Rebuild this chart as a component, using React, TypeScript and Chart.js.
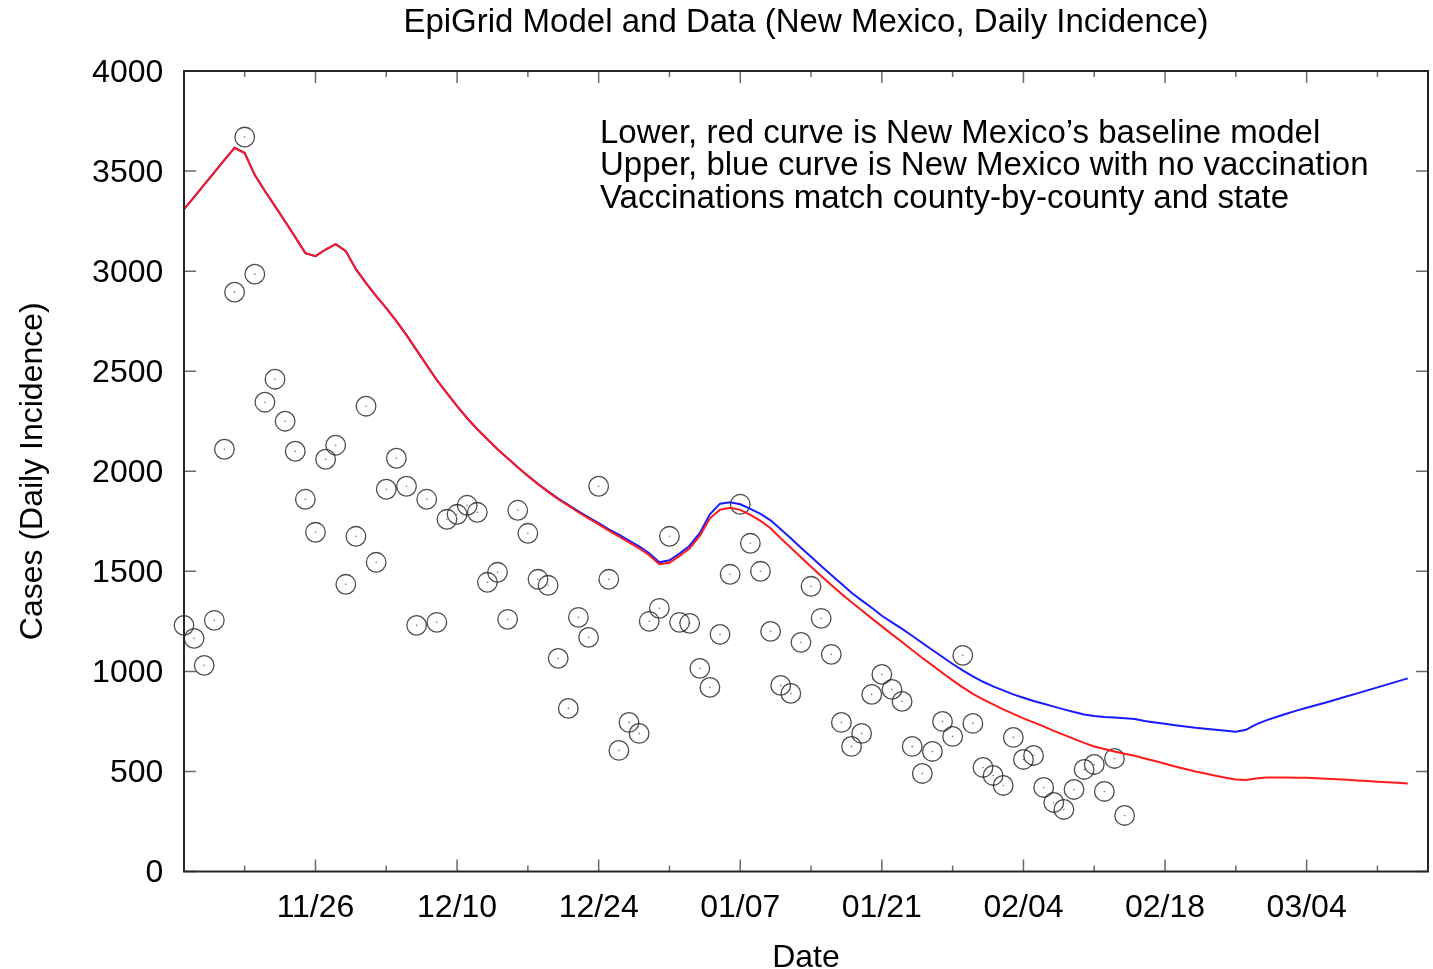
import React, { useEffect, useRef } from "react";
import { Chart, registerables } from "chart.js";

Chart.register(...registerables);

// Day index 0 = 11/13 (one value per day)
const observedCases = [
  1230, 1165, 1030, 1255, 2110, 2895, 3670, 2985, 2345, 2460, 2250, 2100, 1860, 1695, 2060, 2130,
  1435, 1675, 2325, 1545, 1910, 2065, 1925, 1230, 1860, 1245, 1760, 1785, 1830, 1795, 1445, 1495,
  1260, 1805, 1690, 1460, 1430, 1065, 815, 1270, 1170, 1925, 1460, 605, 745, 690, 1250, 1315,
  1675, 1245, 1240, 1015, 920, 1185, 1485, 1835, 1640, 1500, 1200, 930, 890, 1145, 1425, 1265,
  1085, 745, 625, 690, 885, 985, 910, 850, 625, 490, 600, 750, 675, 1080, 740, 520,
  480, 430, 670, 560, 580, 420, 345, 310, 410, 510, 535, 400, 565, 280,
];

// Lower, red curve: baseline model (day 0 .. 121)
const baselineModel = [
  3310, 3370, 3432, 3494, 3556, 3616, 3590, 3480, 3400, 3325, 3248, 3170, 3090, 3075, 3108, 3135,
  3100, 3010, 2940, 2875, 2815, 2750, 2680, 2605, 2530, 2455, 2390, 2325, 2265, 2210, 2160, 2110,
  2065, 2020, 1977, 1935, 1897, 1860, 1828, 1795, 1765, 1735, 1703, 1675, 1645, 1615, 1580, 1535,
  1543, 1577, 1615, 1677, 1765, 1808, 1818, 1807, 1782, 1752, 1715, 1665, 1618, 1570, 1523, 1477,
  1432, 1388, 1345, 1305, 1265, 1225, 1185, 1147, 1107, 1067, 1030, 992, 955, 920, 888, 860,
  835, 810, 788, 765, 745, 725, 703, 683, 663, 643, 625, 612, 600, 588, 578, 565,
  552, 538, 525, 512, 500, 490, 478, 468, 460, 457, 465, 470, 470, 470, 469, 468,
  466, 464, 461, 458, 455, 452, 449, 446, 443, 440,
];

// Upper, blue curve: no vaccination (day 0 .. 121)
const noVaccinationModel = [
  3310, 3370, 3432, 3494, 3556, 3616, 3590, 3480, 3400, 3325, 3248, 3170, 3090, 3075, 3108, 3135,
  3100, 3010, 2940, 2875, 2815, 2750, 2680, 2605, 2530, 2455, 2390, 2325, 2265, 2210, 2160, 2110,
  2065, 2020, 1977, 1937, 1900, 1863, 1832, 1800, 1770, 1741, 1710, 1683, 1654, 1625, 1590, 1545,
  1555, 1589, 1628, 1692, 1785, 1838, 1845, 1835, 1812, 1787, 1755, 1710, 1665, 1618, 1573, 1527,
  1482, 1438, 1393, 1355, 1318, 1278, 1245, 1212, 1178, 1142, 1107, 1072, 1037, 1005, 975, 948,
  925, 905, 885, 868, 852, 838, 824, 810, 797, 785, 777, 772, 769, 766, 762, 752,
  745, 738, 731, 725, 718, 713, 708, 703, 698, 708, 735, 755, 772, 788, 804, 818,
  832, 846, 861, 876, 890, 905, 920, 935, 950, 965,
];

const majorTickDays = [13, 27, 41, 55, 69, 83, 97, 111];
const majorTickLabels = ["11/26", "12/10", "12/24", "01/07", "01/21", "02/04", "02/18", "03/04"];
const minorTickDays = [6, 20, 34, 48, 62, 76, 90, 104, 118];

const annotationLines = [
  "Lower, red curve is New Mexico\u2019s baseline model",
  "Upper, blue curve is New Mexico with no vaccination",
  "Vaccinations match county-by-county and state",
];

const FONT = "'Liberation Sans', Arial, Helvetica, sans-serif";

const toPoints = (arr: number[]) => arr.map((v, i) => ({ x: i, y: v }));

const frameTicksPlugin = {
  id: "frameTicks",
  afterDatasetsDraw(chart: any) {
    const { ctx, chartArea, scales } = chart;
    const { left, right, top, bottom } = chartArea;
    const xs = scales.x;
    const ys = scales.y;
    ctx.save();
    ctx.strokeStyle = "#6a6a6a";
    ctx.lineWidth = 1.5;
    ctx.beginPath();
    ys.ticks.forEach((t: any) => {
      const py = ys.getPixelForValue(t.value);
      ctx.moveTo(left, py);
      ctx.lineTo(left + 12, py);
      ctx.moveTo(right, py);
      ctx.lineTo(right - 12, py);
    });
    xs.ticks.forEach((t: any) => {
      const px = xs.getPixelForValue(t.value);
      ctx.moveTo(px, bottom);
      ctx.lineTo(px, bottom - 12);
      ctx.moveTo(px, top);
      ctx.lineTo(px, top + 12);
    });
    minorTickDays.forEach((d) => {
      const px = xs.getPixelForValue(d);
      ctx.moveTo(px, bottom);
      ctx.lineTo(px, bottom - 6);
      ctx.moveTo(px, top);
      ctx.lineTo(px, top + 6);
    });
    ctx.stroke();
    ctx.strokeStyle = "#262626";
    ctx.lineWidth = 2;
    ctx.strokeRect(left, top, right - left, bottom - top);
    ctx.restore();
  },
};

const annotationPlugin = {
  id: "annotationText",
  afterDraw(chart: any) {
    const { ctx } = chart;
    ctx.save();
    ctx.fillStyle = "#000";
    ctx.font = `33px ${FONT}`;
    ctx.textAlign = "left";
    ctx.textBaseline = "alphabetic";
    annotationLines.forEach((line, i) => {
      ctx.fillText(line, 600, 142.7 + i * 32.4);
    });
    ctx.restore();
  },
};

export default function App() {
  const canvasRef = useRef<HTMLCanvasElement | null>(null);

  useEffect(() => {
    if (!canvasRef.current) return;
    const chart = new Chart(canvasRef.current, {
      type: "scatter",
      data: {
        datasets: [
          {
            type: "line",
            label: "Baseline model",
            data: toPoints(baselineModel),
            borderColor: "#ff1a1a",
            borderWidth: 2,
            pointRadius: 0,
            tension: 0,
            fill: false,
          },
          {
            type: "line",
            label: "No vaccination",
            data: toPoints(noVaccinationModel),
            borderColor: "#1a1aff",
            borderWidth: 2,
            pointRadius: 0,
            tension: 0,
            fill: false,
          },
          {
            type: "scatter",
            label: "Data centers",
            data: toPoints(observedCases),
            pointRadius: 0.8,
            pointBackgroundColor: "rgba(60,60,60,0.7)",
            pointBorderWidth: 0,
            clip: false,
          },
          {
            type: "scatter",
            label: "Data",
            data: toPoints(observedCases),
            pointStyle: "circle",
            pointRadius: 9.8,
            pointBorderWidth: 1.3,
            pointBorderColor: "rgba(30,30,30,0.8)",
            pointBackgroundColor: "rgba(0,0,0,0)",
            clip: false,
          },
        ],
      } as any,
      options: {
        animation: false,
        responsive: false,
        devicePixelRatio: 1,
        layout: { autoPadding: false, padding: { left: 0, right: 5, top: 0, bottom: 0 } },
        plugins: {
          legend: { display: false },
          tooltip: { enabled: false },
          title: {
            display: true,
            fullSize: false,
            text: "EpiGrid Model and Data (New Mexico, Daily Incidence)",
            color: "#000",
            font: { family: FONT, size: 33, weight: "normal", lineHeight: 1.2 },
            padding: { top: 3, bottom: 28.4 },
          },
        },
        scales: {
          x: {
            type: "linear",
            min: 0,
            max: 123,
            afterBuildTicks: (axis: any) => {
              axis.ticks = majorTickDays.map((v) => ({ value: v }));
            },
            afterFit: (scale: any) => {
              scale.height = 97.5;
            },
            grid: { display: false, drawTicks: false },
            border: { display: false },
            ticks: {
              autoSkip: false,
              maxRotation: 0,
              padding: 17.2,
              color: "#000",
              font: { family: FONT, size: 32, lineHeight: 1.2 },
              callback: (value: any) => {
                const idx = majorTickDays.indexOf(Number(value));
                return idx >= 0 ? majorTickLabels[idx] : "";
              },
            },
            title: {
              display: true,
              text: "Date",
              color: "#000",
              font: { family: FONT, size: 32, lineHeight: 0.6 },
              padding: { top: 0, bottom: 1.2 },
            },
          },
          y: {
            type: "linear",
            min: 0,
            max: 4000,
            afterFit: (scale: any) => {
              scale.width = 184;
            },
            grid: { display: false, drawTicks: false },
            border: { display: false },
            ticks: {
              stepSize: 500,
              padding: 20.7,
              labelOffset: 2,
              color: "#000",
              font: { family: FONT, size: 32, lineHeight: 1.2 },
              callback: (value: any) => String(value),
            },
            title: {
              display: true,
              text: "Cases (Daily Incidence)",
              color: "#000",
              font: { family: FONT, size: 32, lineHeight: 1.2 },
              padding: { top: 14.3, bottom: 0 },
            },
          },
        },
      } as any,
      plugins: [frameTicksPlugin, annotationPlugin],
    });
    return () => chart.destroy();
  }, []);

  return (
    <div style={{ position: "fixed", left: 0, top: 0, width: 1433, height: 969, background: "#fff" }}>
      <canvas ref={canvasRef} width={1433} height={969} style={{ width: 1433, height: 969, display: "block" }} />
    </div>
  );
}
